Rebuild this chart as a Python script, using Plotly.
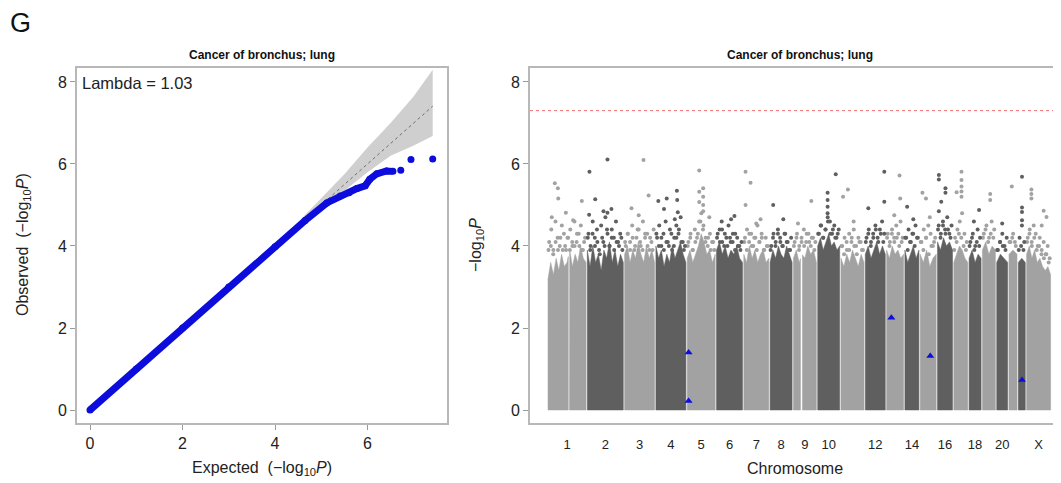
import numpy as np
import plotly.graph_objects as go

W, H = 1061, 483
OFF = 8  # the page body adds an 8px margin around the figure
FONT = "Liberation Sans, Arial, sans-serif"

# ---------------- QQ plot data ----------------
qq_exp = [0, 1, 2, 3, 4, 4.65, 5.12, 5.41, 5.6, 5.77, 5.95, 6.05, 6.2, 6.41, 6.55]
qq_obs = [0, 1, 2, 3, 3.98, 4.62, 5.05, 5.22, 5.3, 5.40, 5.47, 5.63, 5.76, 5.83, 5.82]
qq_tail_exp = [6.72, 6.94, 7.41]
qq_tail_obs = [5.85, 6.11, 6.12]
ci_exp = [4.3, 4.6, 5.0, 5.5, 6.0, 6.5, 7.0, 7.41]
ci_upper = [4.35, 4.7, 5.15, 5.75, 6.4, 7.0, 7.65, 8.3]
ci_lower = [4.25, 4.5, 4.9, 5.35, 5.8, 6.2, 6.45, 6.68]
lambda_gc = 1.03

# ---------------- Manhattan data ----------------
chrom_names = ["1", "2", "3", "4", "5", "6", "7", "8", "9", "10", "11", "12",
               "13", "14", "15", "16", "17", "18", "19", "20", "21", "22", "X"]
chrom_len = [38, 36, 30, 30, 28, 26, 25, 22, 23, 22, 23, 20, 17, 14, 16, 15, 14, 12, 13, 11, 8, 7, 24]
chrom_gap = 1.3
shown_labels = ["1", "2", "3", "4", "5", "6", "7", "8", "9", "10", "12", "14", "16", "18", "20", "X"]
# centromere gaps: chromosome -> (fraction, width)
gaps = {"1": (0.55, 1.2), "9": (0.35, 2.0)}

# upper edge of the solid block of SNPs
env = {
    "1": [3.2, 3.6, 3.3, 3.7, 3.4, 3.8, 3.5, 3.6, 3.9, 3.5, 3.8, 3.6, 4.0, 3.7, 3.6],
    "2": [3.9, 3.5, 4.0, 3.6, 3.8, 3.4, 3.9, 3.7, 4.1, 3.6, 3.9, 3.5, 3.8, 3.6],
    "3": [3.8, 4.0, 3.6, 3.9, 3.7, 4.1, 3.8, 3.6, 4.0, 3.7, 3.9, 3.6],
    "4": [4.0, 3.7, 3.9, 3.5, 3.8, 3.6, 4.0, 3.7, 3.9, 4.1, 3.8, 3.6],
    "5": [3.7, 3.9, 3.6, 3.8, 4.0, 4.3, 4.1, 3.8, 3.9, 3.6, 3.8],
    "6": [3.9, 4.1, 3.8, 4.0, 3.7, 3.9, 3.8, 4.0, 3.7, 3.6],
    "7": [3.8, 3.6, 4.0, 3.7, 3.9, 3.6, 3.8, 3.9, 3.6, 3.7],
    "8": [3.6, 3.9, 3.7, 4.0, 3.8, 3.7, 4.0, 3.8, 3.6],
    "9": [3.7, 3.9, 3.6, 3.8, 3.7, 4.0, 3.8, 3.9, 3.6],
    "10": [4.0, 4.2, 3.9, 4.1, 4.3, 4.0, 4.1, 3.9, 4.0],
    "11": [3.7, 3.5, 3.8, 3.6, 3.9, 3.7, 3.5, 3.8, 3.6],
    "12": [3.8, 4.0, 3.7, 3.9, 4.1, 3.8, 4.0, 3.8],
    "13": [3.9, 3.7, 4.0, 3.8, 3.9, 3.7, 3.8],
    "14": [3.9, 3.6, 3.8, 4.0, 3.7, 3.9],
    "15": [3.8, 3.6, 3.9, 3.5, 3.7, 3.8],
    "16": [4.1, 3.9, 4.2, 4.0, 4.1, 3.9],
    "17": [3.6, 3.8, 4.0, 3.9, 3.7, 3.6],
    "18": [3.7, 3.9, 3.6, 3.8, 3.7],
    "19": [3.9, 4.1, 3.8, 4.0, 3.9],
    "20": [3.6, 3.8, 3.7, 3.6],
    "21": [3.8, 3.9, 3.8],
    "22": [3.6, 3.7, 3.6],
    "X": [3.8, 4.0, 3.7, 3.9, 3.6, 3.7, 3.5, 3.4, 3.5, 3.3],
}

# scattered SNPs just above the solid block
fringe_low = {
    "1": [3.9, 4.0, 3.8, 4.1, 3.9, 4.2, 3.9, 4.0, 4.2, 3.9, 4.1, 4.0, 4.3, 4.0, 3.9, 4.1],
    "2": [4.2, 3.9, 4.3, 4.0, 4.1, 3.8, 4.2, 4.0, 4.4, 4.0, 4.2, 3.9, 4.1, 4.0, 4.2],
    "3": [4.1, 4.3, 3.9, 4.2, 4.0, 4.4, 4.1, 3.9, 4.3, 4.0, 4.2, 3.9],
    "4": [4.3, 4.0, 4.2, 3.9, 4.1, 4.0, 4.3, 4.0, 4.2, 4.4, 4.1, 3.9],
    "5": [4.0, 4.2, 3.9, 4.1, 4.3, 4.6, 4.4, 4.1, 4.2, 3.9, 4.1],
    "6": [4.2, 4.4, 4.1, 4.3, 4.0, 4.2, 4.1, 4.3, 4.0, 3.9],
    "7": [4.1, 3.9, 4.3, 4.0, 4.2, 3.9, 4.1, 4.2, 3.9, 4.0],
    "8": [3.9, 4.2, 4.0, 4.3, 4.1, 4.0, 4.3, 4.1, 3.9],
    "9": [4.0, 4.2, 3.9, 4.1, 4.0, 4.3, 4.1, 4.2, 3.9],
    "10": [4.3, 4.5, 4.2, 4.4, 4.6, 4.3, 4.4, 4.2, 4.3],
    "11": [4.0, 3.8, 4.1, 3.9, 4.2, 4.0, 3.8, 4.1, 3.9],
    "12": [4.1, 4.3, 4.0, 4.2, 4.4, 4.1, 4.3, 4.1],
    "13": [4.2, 4.0, 4.3, 4.1, 4.2, 4.0, 4.1],
    "14": [4.2, 3.9, 4.1, 4.3, 4.0, 4.2],
    "15": [4.1, 3.9, 4.2, 3.8, 4.0, 4.1],
    "16": [4.4, 4.2, 4.5, 4.3, 4.4, 4.2],
    "17": [3.9, 4.1, 4.3, 4.2, 4.0, 3.9],
    "18": [4.0, 4.2, 3.9, 4.1, 4.0],
    "19": [4.2, 4.4, 4.1, 4.3, 4.2],
    "20": [3.9, 4.1, 4.0, 3.9],
    "21": [4.1, 4.2, 4.1],
    "22": [3.9, 4.0, 3.9],
    "X": [4.1, 4.3, 4.0, 4.2, 3.9, 4.0, 3.8, 3.7, 3.8, 3.6],
}

fringe = {
    "1": [4.1, 4.4, 3.9, 4.6, 4.2, 4.0, 4.5, 4.3, 3.9, 4.2, 4.4, 4.0, 4.6, 4.1, 4.3, 4.5, 3.9, 4.2],
    "2": [4.3, 4.0, 4.6, 4.2, 4.4, 3.9, 4.5, 4.1, 4.7, 4.3, 4.0, 4.4, 4.2, 4.6, 4.1, 4.3, 3.9],
    "3": [4.0, 4.3, 4.1, 4.5, 3.9, 4.2, 4.4, 4.0, 4.6, 4.2, 4.3, 3.9, 4.1, 4.4],
    "4": [4.2, 4.5, 4.0, 4.3, 4.6, 4.1, 4.4, 3.9, 4.2, 4.5, 4.3, 4.7, 4.1, 4.0],
    "5": [4.1, 4.3, 3.9, 4.4, 4.2, 4.6, 4.8, 4.5, 4.2, 4.0, 4.3, 4.1, 3.9],
    "6": [4.3, 4.1, 4.4, 4.0, 4.2, 4.5, 4.1, 4.3, 3.9, 4.2, 4.0, 4.1],
    "7": [4.2, 4.4, 4.1, 4.3, 4.0, 4.2, 4.5, 4.1, 4.3, 3.9, 4.2, 4.0],
    "8": [4.0, 4.3, 4.1, 4.4, 4.2, 4.0, 4.3, 4.1, 3.9, 4.2],
    "9": [4.1, 4.3, 4.0, 4.2, 4.4, 4.1, 4.3, 4.0, 4.2, 4.1],
    "10": [4.3, 4.5, 4.2, 4.4, 4.7, 4.6, 4.3, 4.5, 4.2, 4.4],
    "11": [4.0, 4.2, 3.9, 4.3, 4.1, 4.4, 4.0, 4.2, 4.1, 3.9],
    "12": [4.2, 4.4, 4.1, 4.3, 4.5, 4.2, 4.4, 4.6, 4.3],
    "13": [4.3, 4.1, 4.4, 4.2, 4.5, 4.3, 4.6, 4.2],
    "14": [4.2, 4.4, 4.1, 4.3, 4.5, 4.2],
    "15": [4.1, 4.4, 4.2, 4.5, 4.3, 4.0, 4.2],
    "16": [4.5, 4.3, 4.6, 4.4, 4.7, 4.3, 4.5],
    "17": [4.2, 4.4, 4.6, 4.8, 4.3, 4.1],
    "18": [4.1, 4.3, 4.0, 4.4, 4.2],
    "19": [4.3, 4.5, 4.2, 4.6, 4.4],
    "20": [3.9, 4.1, 4.3, 4.0, 4.2],
    "21": [4.1, 4.3, 4.0],
    "22": [4.2, 4.5, 4.1],
    "X": [4.2, 4.4, 4.1, 4.5, 4.3, 4.0, 4.2, 3.9, 4.1, 3.8, 4.0, 3.7],
}

# top SNPs: (position within chromosome as fraction, -log10 P)
peaks = {
    "1": [(0.18, 5.53), (0.26, 5.41), (0.27, 5.16), (0.10, 4.70), (0.47, 4.81), (0.66, 4.63), (0.89, 5.10)],
    "2": [(0.06, 5.81), (0.22, 5.14), (0.05, 4.76), (0.56, 6.11), (0.56, 4.81), (0.45, 4.85), (0.67, 4.90)],
    "3": [(0.23, 4.92), (0.63, 6.10), (0.80, 5.23), (0.47, 4.75)],
    "4": [(0.08, 5.10), (0.36, 5.16), (0.27, 4.90), (0.70, 5.35), (0.71, 5.12), (0.73, 4.82), (0.63, 4.65)],
    "5": [(0.43, 5.84), (0.43, 5.32), (0.57, 5.41), (0.43, 5.07), (0.79, 4.70),
          (0.57, 5.20), (0.57, 5.00), (0.57, 4.85)],
    "6": [(0.56, 4.65), (0.69, 4.73), (0.20, 4.60)],
    "7": [(0.07, 5.81), (0.27, 5.54), (0.07, 5.00), (0.67, 4.65), (0.50, 4.55)],
    "8": [(0.14, 5.00), (0.60, 4.65)],
    "9": [(0.78, 5.10), (0.20, 4.55)],
    "10": [(0.82, 5.75), (0.45, 5.30), (0.45, 4.96), (0.45, 5.12), (0.45, 4.80)],
    "11": [(0.09, 5.20), (0.30, 5.38), (0.55, 4.60)],
    "12": [(0.95, 5.81), (0.95, 5.08), (0.15, 4.92)],
    "13": [(0.76, 5.72), (0.80, 5.16), (0.45, 4.75)],
    "14": [(0.16, 4.96), (0.60, 4.65)],
    "15": [(0.14, 5.30), (0.36, 5.16), (0.60, 4.70)],
    "16": [(0.09, 5.73), (0.09, 5.62), (0.53, 5.41), (0.53, 5.30), (0.25, 5.08), (0.09, 4.85)],
    "17": [(0.55, 5.81), (0.55, 5.61), (0.55, 5.45), (0.55, 5.33), (0.55, 5.20), (0.20, 5.31)],
    "18": [(0.83, 4.88), (0.40, 4.60)],
    "19": [(0.60, 5.27), (0.60, 5.12)],
    "20": [(0.50, 4.55)],
    "21": [(0.35, 5.45)],
    "22": [(0.53, 5.69), (0.53, 4.94), (0.53, 4.83), (0.53, 4.63)],
    "X": [(0.20, 5.38), (0.20, 5.27), (0.20, 5.16), (0.71, 4.86), (0.83, 4.71), (0.63, 4.50)],
}

# highlighted variants (blue triangles)
hl_chrom = ["5", "5", "13", "15", "22"]
hl_frac = [0.05, 0.05, 0.28, 0.63, 0.53]
hl_logp = [1.40, 0.22, 2.25, 1.32, 0.73]

sig_threshold = -np.log10(5e-8)

LIGHT = "#a2a2a2"
DARK = "#5f5f5f"
BLUE = "#0c0cdc"

# ---------------- build figure ----------------
fig = go.Figure()

# QQ: confidence band, diagonal, observed points
fig.add_trace(go.Scatter(x=ci_exp + ci_exp[::-1], y=ci_upper + ci_lower[::-1],
                         fill="toself", fillcolor="#cfcfcf", line=dict(width=0),
                         mode="lines", xaxis="x", yaxis="y", hoverinfo="skip"))
fig.add_trace(go.Scatter(x=[0, ci_exp[-1]], y=[0, ci_exp[-1]], mode="lines",
                         line=dict(color="#6e6e6e", width=1, dash="dot"),
                         xaxis="x", yaxis="y"))
fig.add_trace(go.Scatter(x=qq_exp, y=qq_obs, mode="lines+markers",
                         line=dict(color=BLUE, width=7),
                         marker=dict(color=BLUE, size=7), xaxis="x", yaxis="y"))
fig.add_trace(go.Scatter(x=qq_tail_exp, y=qq_tail_obs, mode="markers",
                         marker=dict(color=BLUE, size=7), xaxis="x", yaxis="y"))

# Manhattan
starts = []
pos = 0.0
for L in chrom_len:
    starts.append(pos)
    pos += L + chrom_gap
centers = {c: s + L / 2 for c, s, L in zip(chrom_names, starts, chrom_len)}


def segment_polygon(xs, ys, a, b):
    inner = [(x, y) for x, y in zip(xs, ys) if a < x < b]
    pts = [(a, float(np.interp(a, xs, ys)))] + inner + [(b, float(np.interp(b, xs, ys)))]
    px = [a] + [p[0] for p in pts] + [b, a]
    py = [0] + [p[1] for p in pts] + [0, 0]
    return px, py


for shade in (LIGHT, DARK):
    poly_x, poly_y = [], []
    dot_x, dot_y = [], []
    for i, c in enumerate(chrom_names):
        col = LIGHT if i % 2 == 0 else DARK
        if col != shade:
            continue
        s, L = starts[i], chrom_len[i]
        e = env[c]
        xs = list(s + L * np.linspace(0, 1, len(e)))
        if c in gaps:
            f, gw = gaps[c]
            segs = [(s, s + L * f - gw / 2), (s + L * f + gw / 2, s + L)]
        else:
            segs = [(s, s + L)]
        for a, b in segs:
            px, py = segment_polygon(xs, e, a, b)
            poly_x += px + [None]
            poly_y += py + [None]
        for fr, shift in ((fringe_low[c], 0.2), (fringe[c], 0.55)):
            n = len(fr)
            dot_x += [s + L * min(k + shift, n - 0.1) / n for k in range(n)]
            dot_y += fr
        dot_x += [s + L * f for f, v in peaks[c]]
        dot_y += [v for f, v in peaks[c]]
    fig.add_trace(go.Scatter(x=poly_x, y=poly_y, fill="toself", fillcolor=shade,
                             mode="lines", line=dict(width=0.5, color=shade),
                             xaxis="x2", yaxis="y2", hoverinfo="skip"))
    fig.add_trace(go.Scatter(x=dot_x, y=dot_y, mode="markers",
                             marker=dict(color=shade, size=4),
                             xaxis="x2", yaxis="y2"))

hl_x = [starts[chrom_names.index(c)] + chrom_len[chrom_names.index(c)] * f
        for c, f in zip(hl_chrom, hl_frac)]
fig.add_trace(go.Scatter(x=hl_x, y=hl_logp, mode="markers",
                         marker=dict(symbol="triangle-up", color=BLUE, size=7),
                         xaxis="x2", yaxis="y2"))

fig.add_shape(type="line", xref="x2 domain", yref="y2", x0=0, x1=1,
              y0=sig_threshold, y1=sig_threshold,
              line=dict(color="#f07070", width=1, dash="dot"))

Wf, Hf = W - OFF, H - OFF


def px_x(p):
    return (p - OFF) / Wf


def px_y(p):
    return 1 - (p - OFF) / Hf


axis_common = dict(showgrid=False, zeroline=False, showline=True,
                   linecolor="#b8b8b8", linewidth=1.6, ticks="outside",
                   tickcolor="#9a9a9a", ticklen=5, tickwidth=1,
                   tickfont=dict(family=FONT, size=16, color="#222222"))
ydom = [px_y(423), px_y(68)]

fig.update_layout(
    width=Wf, height=Hf, margin=dict(l=0, r=0, t=0, b=0),
    paper_bgcolor="white", plot_bgcolor="white", showlegend=False,
    xaxis=dict(domain=[px_x(77), px_x(447)], range=[-0.281, 7.719],
               tickvals=[0, 2, 4, 6], mirror=True, anchor="y", **axis_common),
    yaxis=dict(domain=ydom, range=[-0.317, 8.341], tickvals=[0, 2, 4, 6, 8],
               mirror=True, anchor="x", **axis_common),
    xaxis2=dict(domain=[px_x(530), 1.0], range=[-18, 513],
                tickvals=[centers[c] for c in shown_labels], ticktext=shown_labels,
                mirror=True, anchor="y2",
                **{**axis_common, "tickcolor": "rgba(0,0,0,0)", "ticklen": 9,
                   "tickfont": dict(family=FONT, size=13, color="#222222")}),
    yaxis2=dict(domain=ydom, range=[-0.317, 8.341], tickvals=[0, 2, 4, 6, 8],
                anchor="x2", **axis_common),
)

ann = [
    dict(text="G", x=px_x(8), y=px_y(23), xanchor="left", yanchor="middle",
         font=dict(size=27, color="#111111")),
    dict(text="<b>Cancer of bronchus; lung</b>", x=px_x(262), y=px_y(55),
         font=dict(size=12, color="#111111")),
    dict(text="<b>Cancer of bronchus; lung</b>", x=px_x(800), y=px_y(55),
         font=dict(size=12, color="#111111")),
    dict(text="Lambda = %.2f" % lambda_gc, x=px_x(80), y=px_y(83), xanchor="left",
         font=dict(size=16.5, color="#222222")),
    dict(text="Expected  (\u2212log<sub>10</sub><i>P</i>)", x=px_x(262), y=px_y(468),
         font=dict(size=16, color="#222222")),
    dict(text="Observed  (\u2212log<sub>10</sub><i>P</i>)", x=px_x(24), y=px_y(245),
         textangle=-90, font=dict(size=16, color="#222222")),
    dict(text="\u2212log<sub>10</sub><i>P</i>", x=px_x(477), y=px_y(245),
         textangle=-90, font=dict(size=16, color="#222222")),
    dict(text="Chromosome", x=px_x(795), y=px_y(468),
         font=dict(size=16, color="#222222")),
]
for a in ann:
    a.setdefault("xanchor", "center")
    a.setdefault("yanchor", "middle")
    a["font"]["family"] = FONT
    fig.add_annotation(xref="paper", yref="paper", showarrow=False, **a)

fig.write_html("out.html")
